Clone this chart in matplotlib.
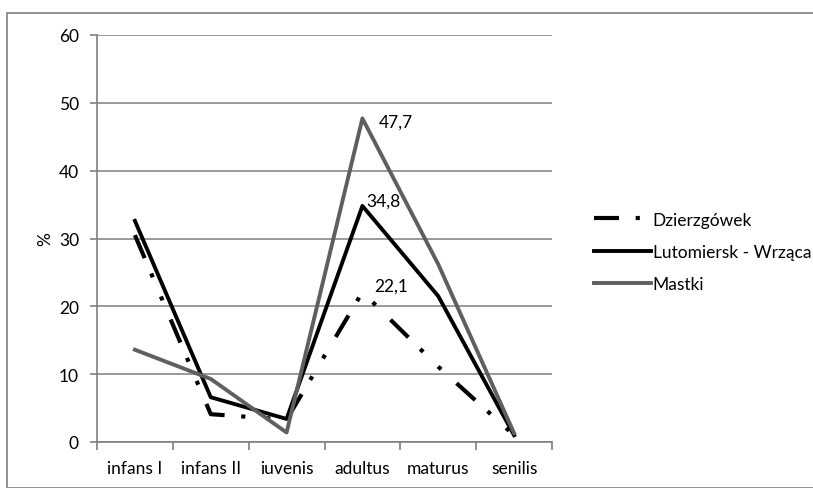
import matplotlib
matplotlib.use("Agg")
import matplotlib.pyplot as plt
from matplotlib.patches import Rectangle

categories = ["infans I", "infans II", "iuvenis", "adultus", "maturus", "senilis"]
dzierzgowek = [30.5, 4.1, 3.3, 22.1, 11.1, 1.0]
lutomiersk = [32.6, 6.6, 3.4, 34.8, 21.5, 1.0]
mastki = [13.6, 9.3, 1.4, 47.7, 26.2, 1.3]
series_names = ["Dzierzgówek", "Lutomiersk - Wrząca", "Mastki"]
yticks = [0, 10, 20, 30, 40, 50, 60]

plt.rcParams['font.family'] = ['Lato', 'DejaVu Sans']
FS = 12.5

fig = plt.figure(figsize=(8.13, 4.89), dpi=100)
fig.patches.append(Rectangle((7/813, 0), 1.0, 1 - 14/489, transform=fig.transFigure,
                             fill=False, edgecolor="#7f7f7f", linewidth=1.2))
ax = fig.add_axes([97/813, 1 - 443/489, (552-97)/813, (443-36)/489])

x = list(range(len(categories)))
ax.plot(x, dzierzgowek, color="black", linewidth=3, dashes=(6, 4, 1, 5, 1, 5),
        label=series_names[0], solid_capstyle="butt", dash_capstyle="butt")
ax.plot(x, lutomiersk, color="black", linewidth=2.8, label=series_names[1])
ax.plot(x, mastki, color="#5f5f5f", linewidth=2.8, label=series_names[2])

ax.set_xlim(-0.5, len(categories) - 0.5)
ax.set_ylim(0, 60)
ax.set_yticks(yticks)
ax.set_yticklabels([str(v) for v in yticks], fontsize=FS)
ax.set_xticks(x)
ax.set_xticklabels(categories, fontsize=FS)
ax.set_xticks([i - 0.5 for i in range(len(categories) + 1)], minor=True)
ax.tick_params(axis="x", which="major", length=0, pad=13)
ax.tick_params(axis="x", which="minor", length=6, color="#808080", width=1.2)
ax.tick_params(axis="y", length=5, color="#808080", width=1.2, pad=8)
ax.grid(axis="y", color="#7f7f7f", linewidth=1.1)
ax.set_axisbelow(True)
for s in ["top", "right"]:
    ax.spines[s].set_visible(False)
ax.spines["left"].set_color("#808080")
ax.spines["bottom"].set_color("#808080")
ax.spines["left"].set_linewidth(1.2)
ax.spines["bottom"].set_linewidth(1.2)
ax.set_ylabel("%", fontsize=FS, labelpad=4)

ax.annotate(f"{mastki[3]:.1f}".replace(".", ","), (3, mastki[3]), xytext=(12, -2),
            textcoords="offset points", fontsize=FS, va="center")
ax.annotate(f"{lutomiersk[3]:.1f}".replace(".", ","), (3, lutomiersk[3]), xytext=(3, 4),
            textcoords="offset points", fontsize=FS, va="center")
ax.annotate(f"{dzierzgowek[3]:.1f}".replace(".", ","), (3, dzierzgowek[3]), xytext=(8.5, 4.5),
            textcoords="offset points", fontsize=FS, va="center")

fig.legend(loc="center left", bbox_to_anchor=(578/813, 1 - 253/489), frameon=False,
           fontsize=FS, handlelength=3.3, handletextpad=0.1, labelspacing=0.95)

fig.savefig("out.png", dpi=100)
